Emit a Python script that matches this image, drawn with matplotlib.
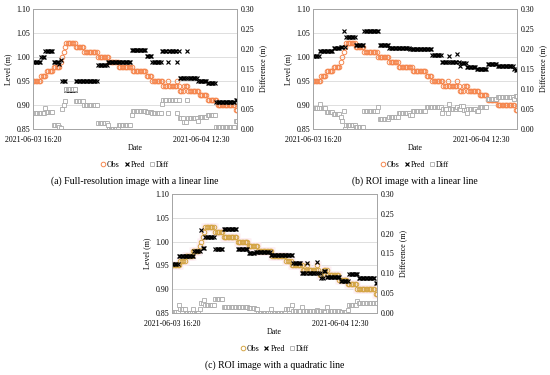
import matplotlib
matplotlib.use("Agg")
import matplotlib.pyplot as plt
import numpy as np
from matplotlib.lines import Line2D

plt.rcParams['font.family'] = ['Liberation Serif', 'DejaVu Serif']

# 10-minute samples from 2021-06-03 16:20, stored as (value, number of samples)
TICK_POS = [0, 121]
TICK_LABELS = ['2021-06-03 16:20', '2021-06-04 12:30']

obs_runs = [
    (0.95, 6), (0.96, 4), (0.97, 5), (0.98, 5), (0.99, 1), (1.00, 1), (1.01, 1),
    (1.02, 1), (1.03, 7), (1.02, 6), (1.01, 10), (1.00, 8), (0.99, 7), (0.98, 10),
    (0.97, 10), (0.96, 4), (0.95, 8), (0.94, 3), (0.95, 1), (0.94, 6), (0.95, 1),
    (0.94, 1), (0.93, 3), (0.94, 3), (0.93, 8), (0.92, 6), (0.91, 7), (0.90, 13),
    (0.89, 2),
]

pred_full_linear_runs = [
    (0.990, 6), (1.001, 3), (1.013, 6), (0.990, 4), (0.985, 1), (0.993, 1),
    (0.951, 3), (0.931, 7), (0.949, 8), (0.951, 8), (0.984, 7), (0.990, 7),
    (0.989, 10), (1.014, 11), (1.002, 4), (0.989, 7), (1.012, 4), (0.989, 1),
    (1.012, 6), (0.989, 1), (1.012, 1), (0.957, 5), (1.012, 1), (0.957, 7),
    (0.949, 7), (0.945, 6), (0.906, 14), (0.910, 2),
]

pred_roi_linear_runs = [
    (1.003, 5), (1.013, 10), (1.018, 5), (1.021, 2), (1.054, 1), (1.020, 1),
    (1.041, 7), (1.025, 6), (1.054, 11), (1.025, 7), (1.019, 15), (1.016, 16),
    (1.004, 7), (0.989, 5), (1.002, 1), (0.989, 5), (1.006, 1), (0.989, 1),
    (0.981, 1), (0.987, 4), (0.979, 7), (0.975, 8), (0.985, 7), (0.981, 12),
    (0.976, 1), (0.972, 2),
]

pred_roi_quad_runs = [
    (0.952, 5), (0.969, 11), (0.980, 5), (1.025, 1), (0.986, 2), (1.010, 7),
    (0.984, 6), (1.026, 10), (0.985, 8), (0.977, 5), (0.979, 11), (0.971, 16),
    (0.956, 6), (0.935, 4), (0.956, 1), (0.935, 6), (0.957, 1), (0.935, 2),
    (0.924, 2), (0.938, 2), (0.926, 10), (0.917, 6), (0.931, 7), (0.924, 12),
    (0.914, 2),
]

CAPTIONS = [
    '(a) Full-resolution image with a linear line',
    '(b) ROI image with a linear line',
    '(c) ROI image with a quadratic line',
]


def expand(runs):
    return np.concatenate([np.full(n, v) for v, n in runs])


obs = expand(obs_runs)
x = np.arange(len(obs))

W, H = 550, 375
fig = plt.figure(figsize=(W / 100, H / 100), dpi=100)

# axes boxes in pixels: left, top, right, bottom
boxes = [(33, 9, 237, 129), (313, 9, 517, 129), (172, 194, 377, 313)]
preds = [expand(pred_full_linear_runs), expand(pred_roi_linear_runs), expand(pred_roi_quad_runs)]
obs_colors = ['#f5874f', '#f5874f', '#d4a545']

FS = 5.7
GRID = '#d9d9d9'
FRAME = '#a6a6a6'
GREY = '#a9a9a9'

for i, ((l, t, r, b), pred) in enumerate(zip(boxes, preds)):
    ax = fig.add_axes([l / W, 1 - b / H, (r - l) / W, (b - t) / H])
    diff = np.abs(pred - obs)

    if i == 2:
        ax.plot(x, obs, 's', ms=6.0, color='#fdeef3', mec='none', zorder=1)
    ax.plot(x, obs, 'o', ms=3.3, mfc='none', mec=obs_colors[i], mew=0.7, zorder=2)
    ax.plot(x, pred, 'x', ms=2.9, color='black', mew=0.85, zorder=3)

    ax.set_xlim(0, len(obs) - 1)
    ax.set_ylim(0.85, 1.10)
    ax.set_yticks(np.arange(0.85, 1.101, 0.05))
    ax.yaxis.set_major_formatter(matplotlib.ticker.FormatStrFormatter('%.2f'))
    ax.set_xticks(TICK_POS)
    ax.set_xticklabels(TICK_LABELS)
    ax.grid(axis='y', color=GRID, linewidth=0.6)
    ax.set_axisbelow(True)
    ax.tick_params(axis='y', length=0, labelsize=FS, pad=2)
    ax.tick_params(axis='x', length=0, labelsize=FS, pad=5)
    for s in ax.spines.values():
        s.set_color(FRAME)
        s.set_linewidth(0.7)
    ax.set_ylabel('Level (m)', fontsize=FS, labelpad=3)

    ax2 = ax.twinx()
    ax2.plot(x, diff, 's', ms=3.1, mfc='white', mec=GREY, mew=0.6)
    ax2.set_ylim(0, 0.30)
    ax2.set_yticks(np.arange(0, 0.301, 0.05))
    ax2.yaxis.set_major_formatter(matplotlib.ticker.FormatStrFormatter('%.2f'))
    ax2.tick_params(length=0, labelsize=FS, pad=3)
    for s in ax2.spines.values():
        s.set_color(FRAME)
        s.set_linewidth(0.7)
    ax2.set_ylabel('Difference (m)', fontsize=FS, labelpad=3)

    cx = (l + r) / 2 / W
    fig.text(cx, 1 - (b + 19) / H, 'Date', fontsize=FS, ha='center', va='center')

    handles = [
        Line2D([], [], ls='none', marker='o', ms=3.3, mfc='none', mec=obs_colors[i], mew=0.7),
        Line2D([], [], ls='none', marker='x', ms=2.9, color='black', mew=0.85),
        Line2D([], [], ls='none', marker='s', ms=3.1, mfc='white', mec=GREY, mew=0.6),
    ]
    fig.legend(handles, ['Obs', 'Pred', 'Diff'], loc='center',
               bbox_to_anchor=(cx, 1 - (b + 36) / H), ncol=3, frameon=False,
               fontsize=FS, handlelength=0.6, handletextpad=0.2, columnspacing=0.6,
               borderpad=0)
    fig.text(cx, 1 - (b + 52) / H, CAPTIONS[i], fontsize=7.0, ha='center', va='center')

fig.savefig('out.png', dpi=100)
